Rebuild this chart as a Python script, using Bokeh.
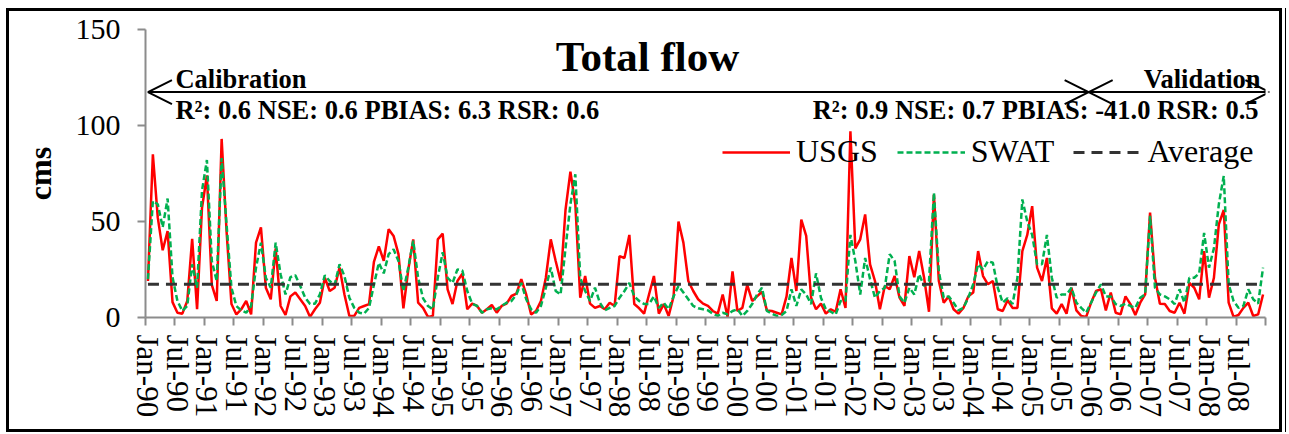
from bokeh.plotting import figure
from bokeh.models import (Range1d, FixedTicker, Label, Arrow, OpenHead,
                          Legend, LegendItem, ColumnDataSource)
from bokeh.embed import file_html
from bokeh.resources import INLINE

FONT = "Liberation Serif"

# ---------------- data (monthly, Jan-1990 .. Dec-2008) ----------------
usgs = [19, 85, 52, 35, 45, 8, 2.5, 2, 8.6, 41, 4.3, 57, 74, 17, 8.6, 93, 45, 7, 1.6, 4.3,
        8.6, 1.6, 39, 47, 15.5, 9.5, 36, 6, 1.3, 11, 13, 9.5, 6, 0.3, 4.3, 7.7, 20.7, 13.8, 15.5, 26,
        12, 0.8, 0.8, 5, 6, 7, 29, 37, 29.5, 46, 42.5, 33, 4.8, 25, 40.7, 7.7, 5, 0.3, 0.8, 40.7,
        43.7, 14.7, 7, 19, 22.8, 4.3, 7.2, 6, 2.5, 4.3, 6.5, 2.5, 6, 7.2, 11.2, 12.4, 20, 12, 1.6, 3.4,
        8.6, 20.7, 40.7, 29.4, 19, 56, 76, 59, 10.3, 21.6, 7.2, 5, 6, 4.3, 7.7, 6, 32, 31, 43, 7,
        4.8, 2, 12, 21.6, 2, 7, 0.8, 11, 50, 39, 19, 13.8, 9.5, 7.2, 6, 3.4, 2, 12, 0.3, 24,
        3.4, 5, 17, 8.6, 11, 13.4, 3.7, 3.4, 2.5, 1.6, 11, 31, 13.8, 51, 42.5, 10.3, 4.3, 7.2, 2, 4.3,
        3, 14.7, 5, 97, 36, 40.7, 53.7, 27.7, 19, 4.3, 16.4, 14.7, 21.6, 10.3, 6, 32, 21, 34.6, 20.7, 3,
        64, 19, 7.7, 11, 4.3, 2, 5, 11, 13, 34.6, 21.6, 17.3, 19, 4.3, 3.4, 9, 5, 5, 34.6, 43,
        58, 26, 19, 31, 4.8, 2, 7, 2, 15.5, 3.7, 0.8, 0.3, 7.7, 13.8, 14.7, 3.7, 13, 2.5, 1.6, 11,
        7, 1.3, 7.7, 12, 54.6, 20.7, 7.2, 7, 3.4, 2.5, 7.7, 2, 18, 15.5, 9.5, 34.6, 10.3, 20.7, 48.5, 56,
        7.7, 0.3, 1.3, 5, 7.7, 0.8, 1.6, 12]

swat = [20, 60.7, 59, 47, 62, 21, 8.6, 3.4, 6, 27.7, 15.5, 66, 82, 29.4, 19, 83, 48.5, 15.5, 6, 3.7,
        2.5, 6, 26, 39, 20.7, 15.5, 39, 22.5, 12, 21, 22, 16.4, 10.3, 7, 7.2, 12, 22, 19, 17, 27.7,
        21.6, 10.3, 5, 2.5, 2, 5, 17, 28.5, 23, 33, 35.5, 29.4, 13.8, 26, 40, 20.7, 10, 6, 4.3, 20.7,
        34, 20.7, 18, 25, 24.5, 13.8, 7.2, 6, 2.5, 4.3, 4.8, 4.3, 6, 7.7, 8.6, 12, 18, 9.5, 4.3, 2.5,
        6, 15.5, 26, 13.8, 12, 36, 59, 74.6, 20.7, 13.8, 8.6, 15.5, 7.7, 3.7, 5, 6, 10.3, 13.8, 18, 11,
        8.6, 7, 7, 11, 5, 7.7, 4.3, 11, 16.4, 13, 9.5, 6, 4.8, 4.3, 3.7, 2, 0.8, 2.5, 1.6, 3.4,
        4.3, 0.8, 3.4, 7, 12, 15.5, 3.4, 2, 0.8, 1.3, 3.4, 14.7, 6, 14.7, 12, 7, 23, 10.3, 4.3, 3,
        1.6, 8.6, 8.6, 43, 29.4, 12, 31, 20, 10.3, 13.8, 15.5, 33, 29.4, 11, 7.7, 15.5, 12, 22.5, 16.4, 19,
        65, 24, 10.3, 11, 7.7, 3.7, 5, 10.3, 17.3, 27.7, 25, 29.4, 28.5, 15.5, 7.7, 10, 7, 20.7, 61.5, 50,
        43, 27.7, 27.7, 43, 20.7, 10.3, 12, 12, 15.5, 7.7, 5, 2.5, 7.7, 13, 17.3, 11, 11, 7, 6, 7.2,
        6, 5, 10.3, 12, 53, 15.5, 12, 11, 9.5, 7, 14.7, 7.7, 20.7, 20.7, 23, 44, 26, 36, 59, 73.7,
        17.3, 8.6, 5, 6, 14.7, 9.5, 7.2, 26]

average_value = 17.3
average = [average_value] * len(usgs)
months = list(range(len(usgs)))

tick_labels = ["Jan-90", "Jul-90", "Jan-91", "Jul-91", "Jan-92", "Jul-92", "Jan-93", "Jul-93",
               "Jan-94", "Jul-94", "Jan-95", "Jul-95", "Jan-96", "Jul-96", "Jan-97", "Jul-97",
               "Jan-98", "Jul-98", "Jan-99", "Jul-99", "Jan-00", "Jul-00", "Jan-01", "Jul-01",
               "Jan-02", "Jul-02", "Jan-03", "Jul-03", "Jan-04", "Jul-04", "Jan-05", "Jul-05",
               "Jan-06", "Jul-06", "Jan-07", "Jul-07", "Jan-08", "Jul-08"]
y_ticks = [0, 50, 100, 150]

calib_text = "R\u00b2: 0.6 NSE: 0.6 PBIAS: 6.3 RSR: 0.6"
valid_text = "R\u00b2: 0.9 NSE: 0.7 PBIAS: -41.0 RSR: 0.5"
split_month = 191.5   # calibration / validation boundary (Jan-06)

src = ColumnDataSource(dict(m=months, usgs=usgs, swat=swat, avg=average))

p = figure(width=1289, height=434, output_backend="svg", toolbar_location=None,
           x_range=Range1d(-0.5, len(usgs) - 0.5), y_range=Range1d(0, 150),
           min_border_left=145, min_border_right=24, min_border_top=29, min_border_bottom=117,
           background_fill_color="white", border_fill_color=None)
p.outline_line_color = None
p.xgrid.visible = False
p.ygrid.visible = False
g = "linear-gradient(#000,#000)"
p.styles = {
    "background-color": "white",
    "background-image": ", ".join([g] * 5),
    "background-position": "6px 8px, 1279px 8px, 1285px 8px, 6px 8px, 6px 429px",
    "background-size": "3px 424px, 3px 424px, 1px 424px, 1276px 3px, 1276px 3px",
    "background-repeat": "no-repeat",
}

AXC = "#8c8c8c"

# y axis
p.yaxis.ticker = FixedTicker(ticks=y_ticks)
p.yaxis.axis_label = "cms"
p.yaxis.axis_label_text_font = FONT
p.yaxis.axis_label_text_font_style = "bold"
p.yaxis.axis_label_text_font_size = "32px"
p.yaxis.axis_label_text_color = "black"
p.yaxis.axis_label_standoff = 15
p.yaxis.major_label_text_font = FONT
p.yaxis.major_label_text_font_size = "30px"
p.yaxis.major_label_text_color = "black"
p.yaxis.major_label_standoff = 17
p.yaxis.minor_tick_line_color = None
p.yaxis.axis_line_color = AXC
p.yaxis.axis_line_width = 2
p.yaxis.major_tick_line_color = AXC
p.yaxis.major_tick_line_width = 2
p.yaxis.major_tick_out = 8
p.yaxis.major_tick_in = 0

# x axis: labels centred on the labelled month, tick marks at 6-month boundaries
n_lab = len(tick_labels)
lab_ticks = [6 * k for k in range(n_lab)]
p.xaxis.ticker = FixedTicker(ticks=lab_ticks, minor_ticks=[6 * k - 0.5 for k in range(n_lab + 1)])
p.xaxis.major_label_overrides = {t: s for t, s in zip(lab_ticks, tick_labels)}
p.xaxis.major_label_orientation = "vertical"
p.xaxis.major_label_text_font = FONT
p.xaxis.major_label_text_font_size = "31px"
p.xaxis.major_label_text_color = "black"
p.xaxis.major_label_standoff = 9
p.xaxis.major_tick_line_color = None
p.xaxis.major_tick_out = 8
p.xaxis.major_tick_in = 0
p.xaxis.minor_tick_line_color = AXC
p.xaxis.minor_tick_line_width = 2
p.xaxis.minor_tick_out = 8
p.xaxis.minor_tick_in = 0
p.xaxis.axis_line_color = AXC
p.xaxis.axis_line_width = 2

r_usgs = p.line("m", "usgs", source=src, line_color="#ff0000", line_width=2.5)
r_swat = p.line("m", "swat", source=src, line_color="#00b050", line_width=2.5, line_dash="6 3")
r_avg = p.line("m", "avg", source=src, line_color="#333333", line_width=3, line_dash="11 7")

legend = Legend(items=[LegendItem(label="USGS", renderers=[r_usgs]),
                       LegendItem(label="SWAT", renderers=[r_swat]),
                       LegendItem(label="Average", renderers=[r_avg])],
                orientation="horizontal", location=(577, 147),
                label_text_font=FONT, label_text_font_size="32px", label_text_color="black",
                glyph_width=68, glyph_height=20, label_standoff=6, spacing=19,
                padding=0, margin=0, border_line_color=None, background_fill_alpha=0)
p.add_layout(legend)

# title and annotations (data coordinates)
def lab(x, y, text, size, align):
    p.add_layout(Label(x=x, y=y, text=text, text_font=FONT, text_font_style="bold",
                       text_font_size=size, text_align=align, text_baseline="middle",
                       text_color="black"))

lab(101.7, 135.7, "Total flow", "43px", "center")
lab(5.6, 124.0, "Calibration", "26.5px", "left")
lab(5.6, 108.3, calib_text, "26.5px", "left")
lab(226.5, 124.0, "Validation", "26.5px", "right")
lab(226.1, 108.3, valid_text, "26.5px", "right")

arrow_y = 117.4
p.add_layout(Arrow(start=OpenHead(size=24, line_width=2), end=OpenHead(size=24, line_width=2),
                   x_start=0, y_start=arrow_y, x_end=split_month, y_end=arrow_y, line_width=2))
p.add_layout(Arrow(start=OpenHead(size=24, line_width=2), end=OpenHead(size=24, line_width=2),
                   x_start=split_month, y_start=arrow_y, x_end=228.3, y_end=arrow_y, line_width=2))

open("out.html", "w").write(file_html(p, INLINE))
